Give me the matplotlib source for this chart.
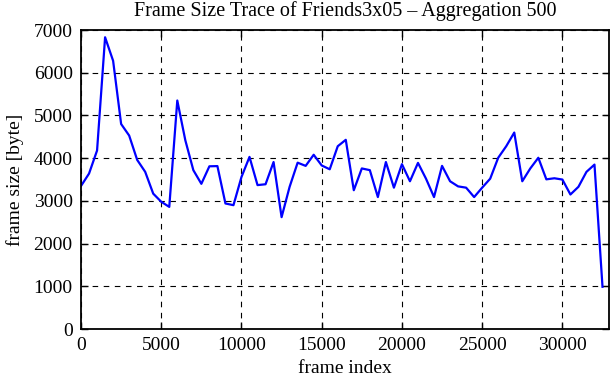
import matplotlib
matplotlib.use("Agg")
import matplotlib.pyplot as plt
import numpy as np

# frame index (aggregation of 500 frames) and aggregated frame size
frame_index = np.arange(0, 33000, 500)
frame_size = [3350, 3640, 4180, 6830, 6280, 4800, 4530, 3960, 3680, 3170,
              2980, 2860, 5350, 4420, 3720, 3400, 3810, 3815, 2940, 2900,
              3560, 4030, 3370, 3390, 3910, 2620, 3330, 3895, 3820, 4080,
              3830, 3740, 4280, 4430, 3250, 3760, 3720, 3090, 3910, 3310,
              3860, 3460, 3890, 3520, 3090, 3820, 3460, 3340, 3310, 3090,
              3310, 3520, 4010, 4280, 4600, 3460, 3760, 4010, 3505, 3530,
              3500, 3150, 3330, 3680, 3850, 990]

plt.rcParams['font.family'] = ['Liberation Serif', 'DejaVu Serif']
plt.rcParams['font.size'] = 14

fig = plt.figure(figsize=(6.11, 3.80), dpi=100)
ax = fig.add_axes([0.1326, 0.134, 0.864, 0.787])

ax.plot(frame_index, frame_size, color='#0000ff', linewidth=1.6)

ax.set_xlim(0, 32900)
ax.set_ylim(0, 7000)
ax.set_xticks(np.arange(0, 32900, 5000))
ax.set_yticks(np.arange(0, 7001, 1000))
ax.grid(True, color='black', linestyle=(0, (5, 5)), linewidth=0.8)
ax.tick_params(direction='in', top=True, right=True, length=5, width=1)
ax.tick_params(axis='x', pad=6)
ax.tick_params(axis='y', pad=6)
for s in ax.spines.values():
    s.set_linewidth(1.3)

ax.set_xlabel("frame index", labelpad=4)
ax.set_ylabel("frame size [byte]", labelpad=7)
ax.set_title("Frame Size Trace of Friends3x05 \u2013 Aggregation 500", fontsize=14.5, pad=10)

fig.savefig("out.png", dpi=100)
